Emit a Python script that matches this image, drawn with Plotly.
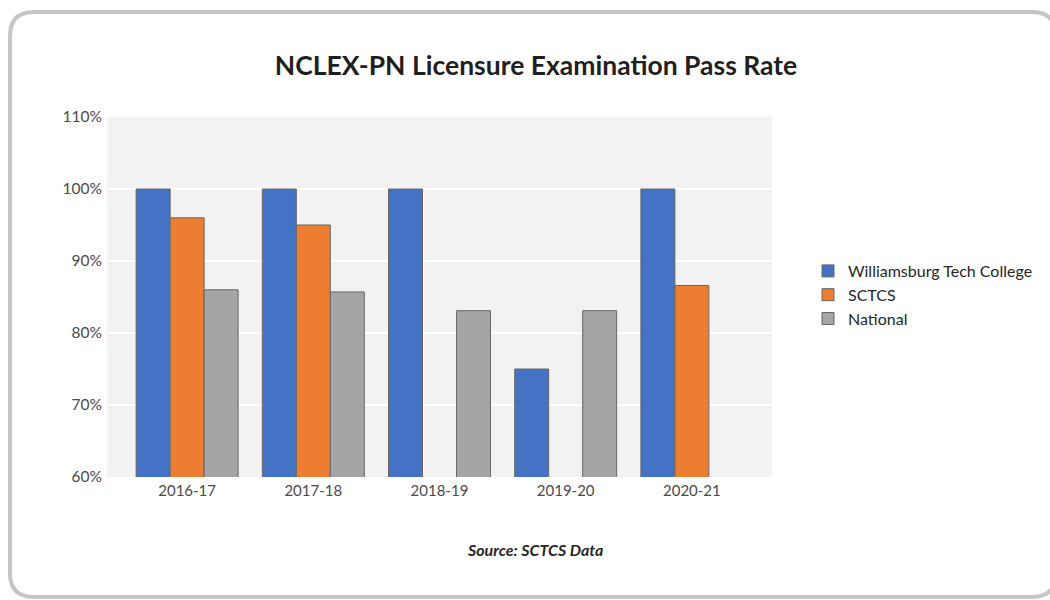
import plotly.graph_objects as go

# data
years = ["2016-17", "2017-18", "2018-19", "2019-20", "2020-21"]
williamsburg = [100, 100, 100, 75, 100]
sctcs = [96, 95, None, None, 86.6]
national = [86, 85.7, 83.1, 83.1, None]

series_names = ["Williamsburg Tech College", "SCTCS", "National"]
series_colors = ["#4472c4", "#ed7d31", "#a5a5a5"]

W, H = 1050, 600
L, R, T, B = 107, 278, 117, 123
pw, ph = W - L - R, H - T - B


def px_x(p):
    return (p - L) / pw


def px_y(p):
    return (H - B - p) / ph


fig = go.Figure()
for name, vals, col in zip(series_names, [williamsburg, sctcs, national], series_colors):
    fig.add_trace(go.Bar(
        x=years, y=vals, name=name,
        marker=dict(color=col, line=dict(color="#666666", width=1)),
    ))

# rounded frame around the whole chart
x0, x1, y0, y1, r = 10, 1056, 12, 597, 24
path = (
    f"M {px_x(x0 + r)} {px_y(y0)} L {px_x(x1 - r)} {px_y(y0)} "
    f"Q {px_x(x1)} {px_y(y0)} {px_x(x1)} {px_y(y0 + r)} "
    f"L {px_x(x1)} {px_y(y1 - r)} Q {px_x(x1)} {px_y(y1)} {px_x(x1 - r)} {px_y(y1)} "
    f"L {px_x(x0 + r)} {px_y(y1)} Q {px_x(x0)} {px_y(y1)} {px_x(x0)} {px_y(y1 - r)} "
    f"L {px_x(x0)} {px_y(y0 + r)} Q {px_x(x0)} {px_y(y0)} {px_x(x0 + r)} {px_y(y0)} Z"
)
fig.add_shape(type="path", path=path, xref="paper", yref="paper",
              line=dict(color="#c6c6c6", width=4), layer="below")

fig.add_annotation(
    text="<b><i>Source: SCTCS Data</i></b>",
    x=px_x(535), y=px_y(549), xref="paper", yref="paper",
    xanchor="center", yanchor="middle",
    showarrow=False, font=dict(family="Lato", size=16, color="#262626"),
)

fig.update_layout(
    width=W, height=H, autosize=False,
    margin=dict(l=L, r=R, t=T, b=B),
    title=dict(text="<b>NCLEX-PN Licensure Examination Pass Rate</b>",
               x=536 / W, xanchor="center", y=1 - 66 / H, yanchor="middle",
               font=dict(family="Lato", size=26.5, color="#1f1f1f")),
    barmode="group", bargap=0.192, bargroupgap=0,
    plot_bgcolor="#f2f2f2", paper_bgcolor="white",
    font=dict(family="Lato", size=15, color="#595959"),
    legend=dict(x=px_x(808), xanchor="left", y=px_y(295), yanchor="middle",
                font=dict(family="Lato", size=16, color="#262626"),
                tracegroupgap=2),
    xaxis=dict(showgrid=False, ticks="", range=[-0.635, 4.635], ticklabelstandoff=3,
               tickfont=dict(size=15, color="#4a4a4a")),
    yaxis=dict(range=[60, 110], dtick=10, ticksuffix="%", showgrid=True,
               gridcolor="white", gridwidth=2, zeroline=False, layer="above traces",
               ticklabelstandoff=4, tickfont=dict(size=15.5, color="#4a4a4a")),
)

fig.write_html(
    "out.html",
    config={"displayModeBar": False, "responsive": False},
    post_script="document.body.style.margin='0';document.body.style.overflow='hidden';",
)
